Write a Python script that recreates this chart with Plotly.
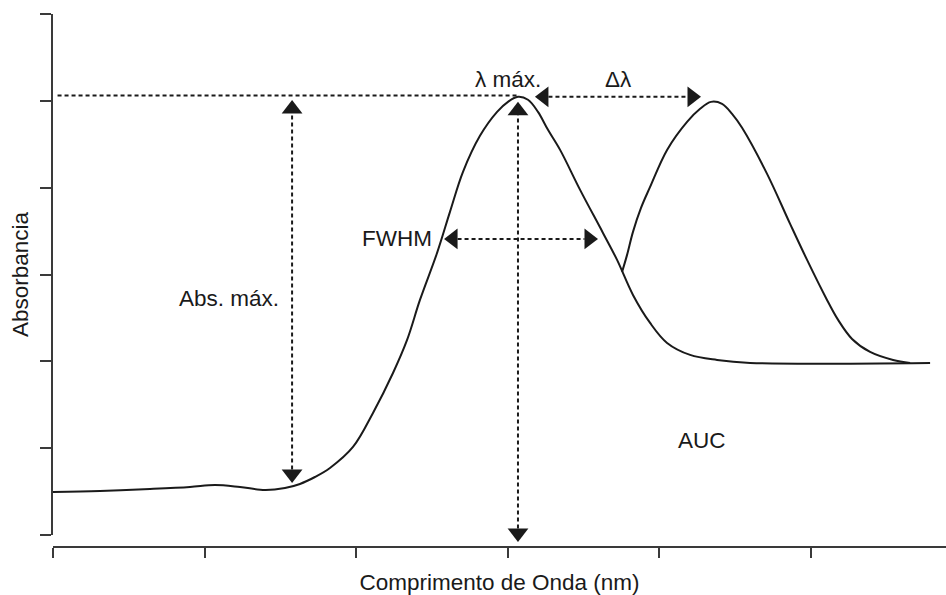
import plotly.graph_objects as go

# Axis scale: data units per axis tick (wavelength and absorbance are unitless here)
x_ticks = [0, 1, 2, 3, 4, 5]
y_ticks = [0, 1, 2, 3, 4, 5, 6]
x_range = [0, 5.894]
y_range = [0, 6]

# Main absorption band (with the flat baseline running out to the right)
band1_x = [0.000, 0.310, 0.640, 0.904, 1.069, 1.234, 1.399, 1.531, 1.630, 1.729,
           1.828, 1.980, 2.112, 2.244, 2.337, 2.422, 2.535, 2.620, 2.706, 2.818,
           2.931, 3.003, 3.069, 3.135, 3.201, 3.267, 3.347, 3.479, 3.630, 3.723,
           3.828, 3.941, 4.053, 4.205, 4.383, 4.601, 5.789]
band1_y = [0.495, 0.507, 0.530, 0.553, 0.576, 0.553, 0.518, 0.541, 0.588, 0.668,
           0.772, 1.014, 1.406, 1.866, 2.247, 2.707, 3.249, 3.721, 4.182, 4.597,
           4.873, 4.988, 5.046, 5.012, 4.873, 4.666, 4.435, 3.975, 3.479, 3.168,
           2.765, 2.442, 2.212, 2.074, 2.016, 1.982, 1.982]

# Shifted band, branching off the descending flank of the main band
band2_x = [3.756, 3.789, 3.828, 3.881, 3.941, 4.053, 4.185, 4.271, 4.343, 4.416,
           4.482, 4.548, 4.713, 4.865, 4.977, 5.102, 5.182, 5.274, 5.393, 5.545,
           5.657]
band2_y = [3.030, 3.226, 3.491, 3.767, 4.009, 4.435, 4.758, 4.908, 4.988, 4.965,
           4.850, 4.689, 4.159, 3.583, 3.168, 2.730, 2.477, 2.258, 2.108, 2.016,
           1.982]

# Annotation geometry: arrow end points (tips) in data units
abs_max_x = 1.578
abs_max_y = [0.60, 5.01]
lam_max_x = 3.069
lam_max_y = [-0.08, 4.99]
fwhm_y = 3.41
fwhm_x = [2.581, 3.597]
dlam_y = 5.046
dlam_x = [3.181, 4.277]
peak_level = 5.06

INK = "#1a1a1a"
AXIS = "#3a3a3a"
FONT = "Arial, Liberation Sans, sans-serif"
FS = 22.5

# pixel size of one data unit (plot area 893 x 521 px)
PX_X = 893 / (x_range[1] - x_range[0])
PX_Y = 521 / (y_range[1] - y_range[0])
HEAD = 18           # arrowhead marker size (px)
R = HEAD / 2        # tip distance from marker centre (px)
BASE = HEAD * 0.75  # tip-to-base length (px)

fig = go.Figure()

for bx, by in ((band1_x, band1_y), (band2_x, band2_y)):
    fig.add_trace(go.Scatter(
        x=bx, y=by, mode="lines",
        line=dict(color=INK, width=2, shape="spline", smoothing=1.0),
        hoverinfo="skip", showlegend=False))

dash = "4px,3px"


def dotted(xs, ys):
    fig.add_trace(go.Scatter(
        x=xs, y=ys, mode="lines",
        line=dict(color=INK, width=2, dash=dash),
        hoverinfo="skip", showlegend=False))


def head(x, y, symbol):
    fig.add_trace(go.Scatter(
        x=[x], y=[y], mode="markers", cliponaxis=False,
        marker=dict(symbol=symbol, size=HEAD, color=INK, line=dict(width=0)),
        hoverinfo="skip", showlegend=False))


# horizontal level of the absorbance maximum
dotted([0.03, lam_max_x], [peak_level, peak_level])

# vertical double arrows (Abs. máx. and λ máx.)
for vx, (lo, hi) in ((abs_max_x, abs_max_y), (lam_max_x, lam_max_y)):
    dotted([vx, vx], [lo + BASE / PX_Y, hi - BASE / PX_Y])
    head(vx, hi - R / PX_Y, "triangle-up")
    head(vx, lo + R / PX_Y, "triangle-down")

# horizontal double arrows (FWHM and Δλ)
for hy, (lo, hi) in ((fwhm_y, fwhm_x), (dlam_y, dlam_x)):
    dotted([lo + BASE / PX_X, hi - BASE / PX_X], [hy, hy])
    head(lo + R / PX_X, hy, "triangle-left")
    head(hi - R / PX_X, hy, "triangle-right")

labels = [
    ("λ máx.", 3.00, 5.24),
    ("Δλ", 3.73, 5.24),
    ("FWHM", 2.27, 3.41),
    ("Abs. máx.", 1.162, 2.72),
    ("AUC", 4.284, 1.094),
]
for text, lx, ly in labels:
    fig.add_annotation(x=lx, y=ly, text=text, showarrow=False,
                       font=dict(family=FONT, size=FS, color=INK),
                       xanchor="center", yanchor="middle")

fig.update_layout(
    width=946, height=595,
    margin=dict(l=53, r=0, t=14, b=48),
    paper_bgcolor="white", plot_bgcolor="white",
    showlegend=False,
    xaxis=dict(
        range=x_range, tickvals=x_ticks, showticklabels=False,
        ticks="outside", ticklen=10, tickwidth=2, tickcolor=AXIS,
        showline=True, linecolor=AXIS, linewidth=2,
        showgrid=False, zeroline=False,
        anchor="free", position=0,
        title=dict(text="Comprimento de Onda (nm)", standoff=17,
                   font=dict(family=FONT, size=FS, color=INK)),
    ),
    yaxis=dict(
        range=y_range, tickvals=y_ticks, showticklabels=False,
        domain=[12 / 533, 1],
        ticks="outside", ticklen=11, tickwidth=2, tickcolor=AXIS,
        showline=True, linecolor=AXIS, linewidth=2,
        showgrid=False, zeroline=False,
        title=dict(text="Absorbancia", standoff=5,
                   font=dict(family=FONT, size=FS, color=INK)),
    ),
)

fig.write_html("out.html")
